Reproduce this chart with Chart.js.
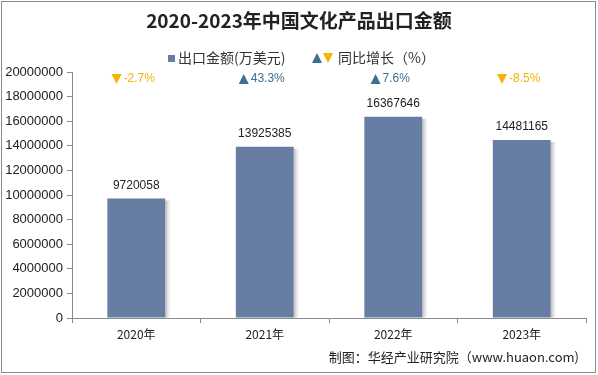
<!DOCTYPE html>
<html><head><meta charset="utf-8">
<script src="https://cdn.jsdelivr.net/npm/chart.js@4/dist/chart.umd.min.js"></script>
<style>html,body{margin:0;padding:0;background:#fff}#wrap{width:598px;height:375px;position:relative}</style>
</head><body><div id="wrap"><canvas id="c" width="598" height="375"></canvas></div>
<script>
const categories = ['2020年','2021年','2022年','2023年'];
const exportValues = [9720058, 13925385, 16367646, 14481165];
const growthRates = [-2.7, 43.3, 7.6, -8.5];
const yTicks = [0,2000000,4000000,6000000,8000000,10000000,12000000,14000000,16000000,18000000,20000000];
const titleText = '2020-2023年中国文化产品出口金额';
const legendBar = '出口金额(万美元)';
const legendGrowth = '同比增长（%）';
const sourceText = '制图：华经产业研究院（www.huaon.com)';

const BAR = '#687da3', UP = '#3d6f90', DOWN = '#f5b400';
const CJK = '"Noto Sans CJK SC", "Liberation Sans", sans-serif';
const ARIAL = '"Liberation Sans", Arial, sans-serif';

function tri(ctx, x, y, s, up, color){
  ctx.fillStyle = color; ctx.beginPath();
  if (up){ ctx.moveTo(x, y+s/2); ctx.lineTo(x+s, y+s/2); ctx.lineTo(x+s/2, y-s/2); }
  else { ctx.moveTo(x, y-s/2); ctx.lineTo(x+s, y-s/2); ctx.lineTo(x+s/2, y+s/2); }
  ctx.closePath(); ctx.fill();
}

const deco = {
  id:'deco',
  beforeDatasetsDraw(chart){
    const ctx = chart.ctx; const meta = chart.getDatasetMeta(0);
    ctx.save();
    meta.data.forEach(b=>{
      const w = b.width; const x = b.x + w/2;
      const g = ctx.createLinearGradient(x,0,x+6,0);
      g.addColorStop(0,'rgba(120,120,120,0.55)'); g.addColorStop(1,'rgba(200,200,200,0)');
      ctx.fillStyle = g; ctx.fillRect(x, b.y+2, 6, b.base-b.y-2);
    });
    ctx.restore();
  },
  afterDraw(chart){
    const ctx = chart.ctx; ctx.save();
    ctx.strokeStyle = '#8a8a8a'; ctx.lineWidth = 1;
    ctx.strokeRect(1.5, 1.5, 594, 371);
    ctx.fillStyle = '#222'; ctx.textAlign='center'; ctx.textBaseline='middle';
    ctx.font = 'bold 19px ' + CJK;
    ctx.fillText(titleText, 299, 21);
    ctx.font = '14px ' + CJK; ctx.textAlign='left';
    ctx.fillStyle = BAR; ctx.fillRect(168, 55, 7, 7);
    ctx.fillStyle='#333'; ctx.fillText(legendBar, 178, 58);
    tri(ctx, 312, 58, 10, true, UP);
    tri(ctx, 323, 58, 10, false, DOWN);
    ctx.fillStyle='#333'; ctx.fillText(legendGrowth, 338, 58);
    const meta = chart.getDatasetMeta(0);
    meta.data.forEach((b,i)=>{
      const r = growthRates[i]; const up = r >= 0;
      const txt = r.toFixed(1) + '%';
      ctx.font = '12px ' + ARIAL;
      const tw = ctx.measureText(txt).width;
      const total = 12 + tw; const x0 = b.x - total/2 - 3;
      tri(ctx, x0, 79, 10, up, up?UP:DOWN);
      ctx.fillStyle = up?UP:DOWN; ctx.textAlign='left';
      ctx.fillText(txt, x0+12, 79);
      ctx.fillStyle = '#222'; ctx.textAlign='center';
      ctx.fillText(String(exportValues[i]), b.x, b.y - 13);
    });
    ctx.font = '13px ' + CJK; ctx.textAlign='right'; ctx.fillStyle='#222';
    ctx.fillText(sourceText, 579, 357);
    ctx.restore();
  }
};

new Chart(document.getElementById('c'), {
  type:'bar',
  data:{ labels: categories, datasets:[{ data: exportValues, backgroundColor: BAR, categoryPercentage:1, barPercentage:0.45 }]},
  options:{
    responsive:false, animation:false, devicePixelRatio:1,
    layout:{ padding:{ top:72, right:12, left:0, bottom:0 } },
    plugins:{ legend:{display:false}, tooltip:{enabled:false} },
    scales:{
      x:{
        afterFit(s){ s.height = 57; },
        grid:{ offset:true, drawOnChartArea:false, tickLength:5, color:'#8a8a8a' },
        border:{ color:'#8a8a8a' },
        ticks:{ color:'#222', font:{ size:12, family: CJK }, padding:4 }
      },
      y:{
        min:0, max:20000000,
        afterFit(s){ s.width = 72; },
        afterBuildTicks(s){ s.ticks = yTicks.map(v=>({value:v})); },
        grid:{ drawOnChartArea:false, tickLength:5, color:'#8a8a8a' },
        border:{ color:'#8a8a8a' },
        ticks:{ color:'#222', font:{ size:13, family: ARIAL }, padding:4, callback:(v)=>String(v) }
      }
    }
  },
  plugins:[deco]
});
</script></body></html>
